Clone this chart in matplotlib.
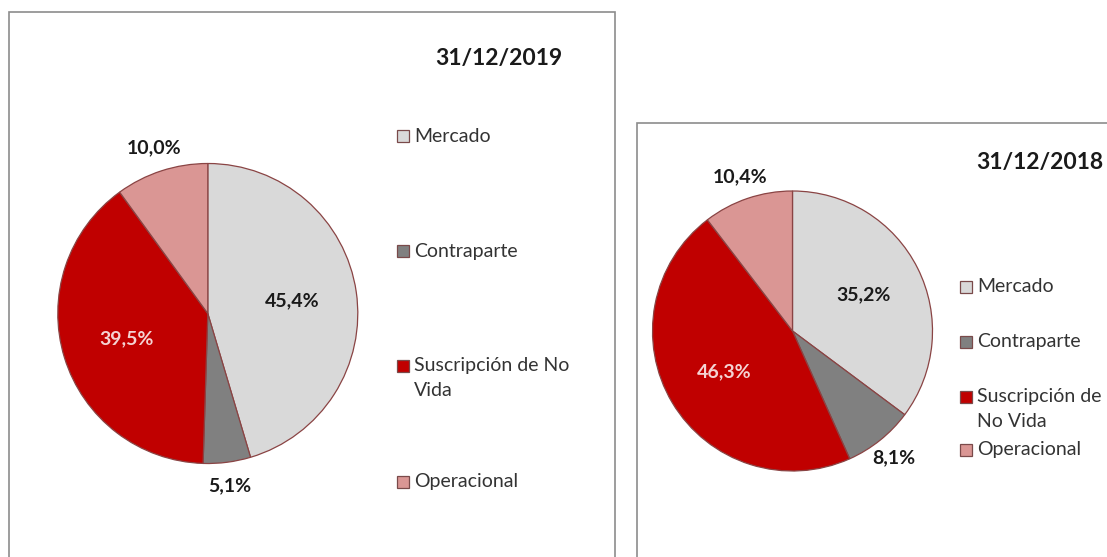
import numpy as np
import matplotlib
matplotlib.use("Agg")
import matplotlib.pyplot as plt
from matplotlib.patches import Rectangle

plt.rcParams['font.family'] = ['Lato', 'DejaVu Sans']

# --- datos ---
categorias = ["Mercado", "Contraparte", "Suscripción de No Vida", "Operacional"]
valores_2019 = [45.4, 5.1, 39.5, 10.0]
valores_2018 = [35.2, 8.1, 46.3, 10.4]
etiquetas_2019 = ["Mercado", "Contraparte", "Suscripción de No\nVida", "Operacional"]
etiquetas_2018 = ["Mercado", "Contraparte", "Suscripción de\nNo Vida", "Operacional"]
titulo_2019 = "31/12/2019"
titulo_2018 = "31/12/2018"

colores = ["#D9D9D9", "#808080", "#C00000", "#DA9694"]
color_txt_dentro = ["#1a1a1a", "#1a1a1a", "#F4D3D3", "#1a1a1a"]

W, H = 1107, 557
fig = plt.figure(figsize=(W / 100, H / 100), dpi=100)


def px(x, y):
    # pixeles (desde arriba-izquierda) -> fraccion de figura
    return x / W, 1 - y / H


def dibujar_panel(valores, etiquetas, titulo, cx, cy, R, caja, pos_titulo, ley_x, ley_y):
    k = 1.3
    lado = 2 * k * R
    ax = fig.add_axes([(cx - lado / 2) / W, (H - cy - lado / 2) / H, lado / W, lado / H])
    wedges, _ = ax.pie(valores, colors=colores, startangle=90, counterclock=False,
                       wedgeprops=dict(edgecolor="#8a4444", linewidth=0.9))
    ax.set_xlim(-k, k)
    ax.set_ylim(-k, k)
    ax.set_aspect('equal')
    ax.axis('off')

    # etiquetas de datos: dentro si la porcion es grande, fuera si es pequeña
    for w, v, c in zip(wedges, valores, color_txt_dentro):
        ang = np.deg2rad((w.theta1 + w.theta2) / 2)
        r = 0.57 if v >= 20 else 1.16
        col = c if v >= 20 else "#1a1a1a"
        ax.text(r * np.cos(ang), r * np.sin(ang), f"{v:.1f}".replace('.', ',') + "%",
                ha='center', va='center', fontsize=14, fontweight='bold', color=col)

    # recuadro
    x0, y0, x1 = caja
    fx0, fy0 = px(x0, y0)
    fig.patches.append(Rectangle((fx0, -0.1), (x1 - x0) / W, fy0 + 0.1,
                                 transform=fig.transFigure, fill=False,
                                 edgecolor="#8c8c8c", linewidth=1.2))

    tx, ty = px(*pos_titulo)
    fig.text(tx, ty, titulo, ha='center', va='center', fontsize=16.5,
             fontweight='bold', color="#1a1a1a")

    # leyenda
    m = 12
    for lab, col, yy in zip(etiquetas, colores, ley_y):
        mx, my = px(ley_x, yy + m / 2)
        fig.patches.append(Rectangle((mx, my), m / W, m / H, transform=fig.transFigure,
                                     facecolor=col, edgecolor="#7a4a4a", linewidth=0.9))
        if "\n" in lab:
            tx, ty = px(ley_x + m + 5, yy - 9)
            fig.text(tx, ty, lab, ha='left', va='top', fontsize=14,
                     color="#333333", linespacing=1.6)
        else:
            tx, ty = px(ley_x + m + 5, yy)
            fig.text(tx, ty, lab, ha='left', va='center', fontsize=14, color="#333333")


dibujar_panel(valores_2019, etiquetas_2019, titulo_2019, 207.8, 313.5, 150,
              (9, 12, 615), (498.5, 58), 397, [136, 251, 366, 482])
dibujar_panel(valores_2018, etiquetas_2018, titulo_2018, 792.5, 331, 140,
              (637, 123, 1200), (1039.5, 163), 960, [287, 342, 397, 450])

fig.savefig("out.png", dpi=100)
